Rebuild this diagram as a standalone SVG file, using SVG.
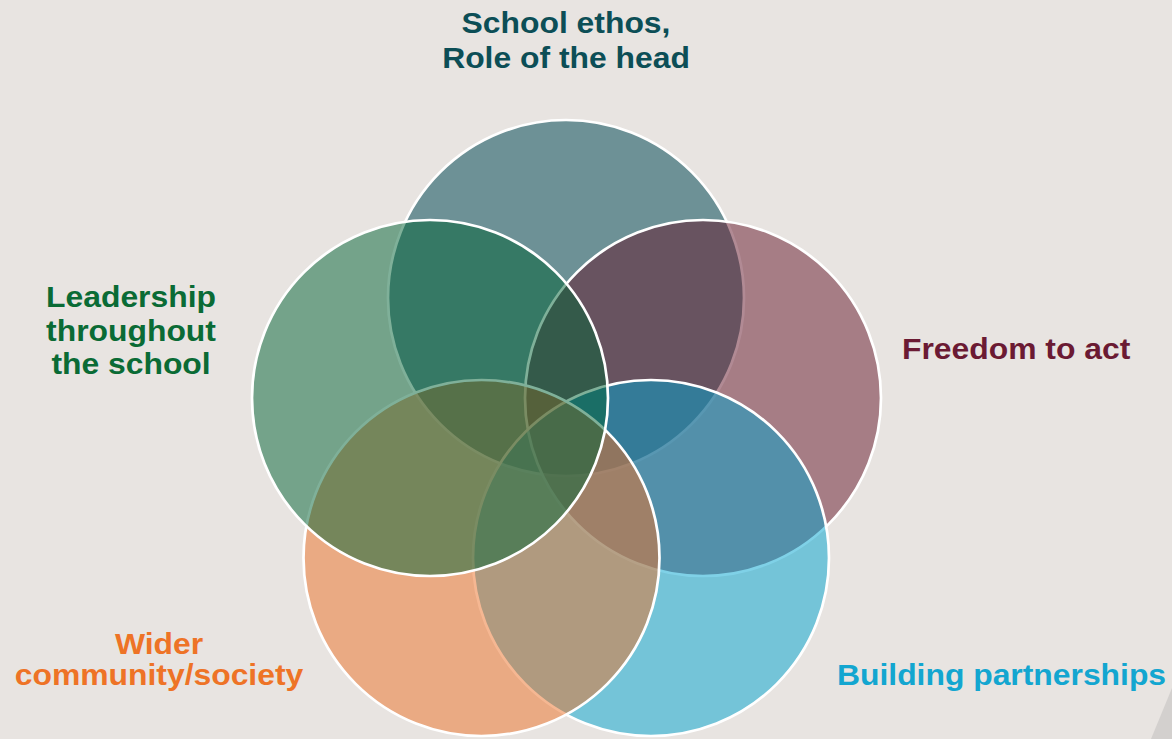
<svg xmlns="http://www.w3.org/2000/svg" width="1172" height="739" viewBox="0 0 1172 739">
<style>
.c{stroke:#FFFFFF;stroke-width:2.7;fill-opacity:0.5}
.t{font-family:"Liberation Sans",Arial,sans-serif;font-weight:bold;font-size:29.5px}
</style>
<rect x="0" y="0" width="1172" height="739" fill="#E8E4E1"/>
<polygon points="1172,688 1151,739 1172,739" fill="#D3D0CE"/>
<g id="circles">
<g id="top"><circle class="c" cx="566" cy="298" r="178" fill="#004754" style="fill-opacity:0.53"/></g>
<g id="right"><circle class="c" cx="703" cy="398" r="178" fill="#641629"/></g>
<g id="bottom-right"><circle class="c" cx="651" cy="558" r="178" fill="#00A4CF"/></g>
<g id="bottom-left"><circle class="c" cx="481.5" cy="558" r="178" fill="#EC7025"/></g>
<g id="left"><circle class="c" cx="430" cy="398" r="178" fill="#006133"/></g>
</g>
<g id="labels">
<g id="label-top" fill="#0C4E56">
<text class="t" transform="translate(566,33) scale(1.08,1)" text-anchor="middle">School ethos,</text>
<text class="t" transform="translate(566,68) scale(1.08,1)" text-anchor="middle">Role of the head</text>
</g>
<g id="label-left" fill="#0A6B35">
<text class="t" transform="translate(131,307) scale(1.08,1)" text-anchor="middle">Leadership</text>
<text class="t" transform="translate(131,340.5) scale(1.08,1)" text-anchor="middle">throughout</text>
<text class="t" transform="translate(131,374) scale(1.08,1)" text-anchor="middle">the school</text>
</g>
<g id="label-right" fill="#6B1A33">
<text class="t" transform="translate(902,359) scale(1.08,1)">Freedom to act</text>
</g>
<g id="label-bottom-left" fill="#EE7326">
<text class="t" transform="translate(159,654) scale(1.08,1)" text-anchor="middle">Wider</text>
<text class="t" transform="translate(159,685) scale(1.08,1)" text-anchor="middle">community/society</text>
</g>
<g id="label-bottom-right" fill="#13A6D0">
<text class="t" transform="translate(837,685) scale(1.08,1)">Building partnerships</text>
</g>
</g>
</svg>
